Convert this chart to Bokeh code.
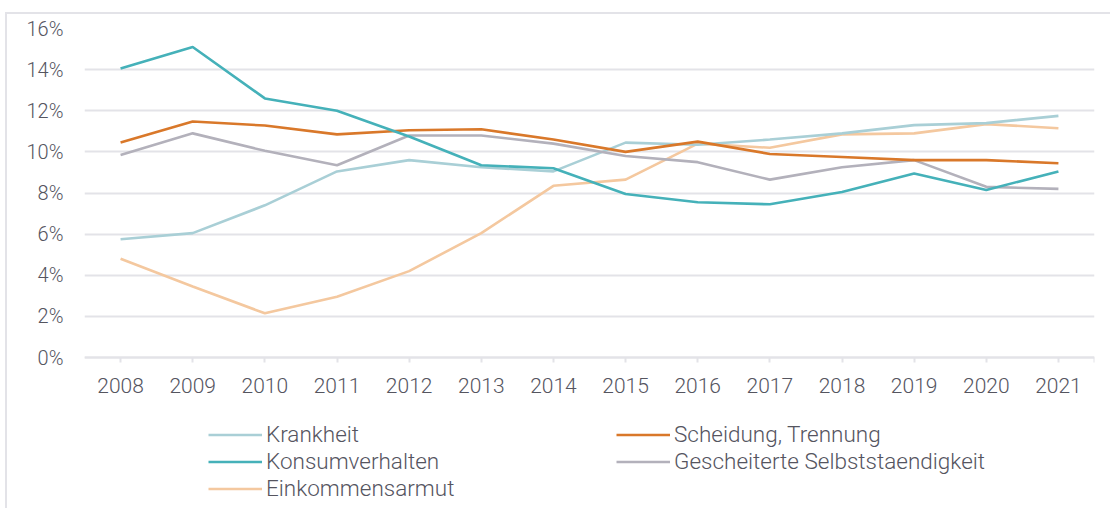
from bokeh.plotting import figure
from bokeh.models import FixedTicker, PrintfTickFormatter, Legend, LegendItem, Range1d
from bokeh.embed import file_html
from bokeh.resources import INLINE

years = [2008, 2009, 2010, 2011, 2012, 2013, 2014, 2015, 2016, 2017, 2018, 2019, 2020, 2021]
krankheit = [5.75, 6.05, 7.4, 9.05, 9.6, 9.25, 9.05, 10.45, 10.35, 10.6, 10.9, 11.3, 11.4, 11.75]
scheidung = [10.45, 11.48, 11.28, 10.85, 11.05, 11.1, 10.6, 10.0, 10.5, 9.9, 9.75, 9.6, 9.6, 9.45]
konsum = [14.05, 15.1, 12.6, 12.0, 10.75, 9.35, 9.2, 7.95, 7.55, 7.45, 8.05, 8.95, 8.15, 9.05]
gescheitert = [9.85, 10.9, 10.05, 9.35, 10.8, 10.8, 10.4, 9.8, 9.5, 8.65, 9.25, 9.6, 8.3, 8.2]
einkommen = [4.8, 3.45, 2.15, 2.95, 4.2, 6.05, 8.35, 8.65, 10.4, 10.2, 10.85, 10.9, 11.35, 11.15]
y_ticks = [0, 2, 4, 6, 8, 10, 12, 14, 16]

series = [
    ("Krankheit", krankheit, "#a9cfd6"),
    ("Scheidung, Trennung", scheidung, "#d9782a"),
    ("Konsumverhalten", konsum, "#45b1b9"),
    ("Gescheiterte Selbststaendigkeit", gescheitert, "#b3b1bb"),
    ("Einkommensarmut", einkommen, "#f4c89f"),
]
# legend order (column-major: left column first, then right column)
legend_order = ["Krankheit", "Konsumverhalten", "Einkommensarmut",
                "Scheidung, Trennung", "Gescheiterte Selbststaendigkeit"]

FONT = "Roboto Light"
TXT = "#55555f"
GRID = "#e3e3e8"

# frame: top at page y=28 (16%), 0% at page y=357, frame bottom at page y=510
y_bottom = -(510 - 357) / ((357 - 28) / 16)

p = figure(width=1105, height=496, output_backend="svg", toolbar_location=None,
           x_range=Range1d(2007.5, 2021.5), y_range=Range1d(y_bottom, 16),
           min_border_left=77, min_border_right=18, min_border_top=14, min_border_bottom=0,
           styles={"margin-left": "5px", "margin-top": "12px",
                   "border-left": "2px solid #e3e3e8", "border-top": "2px solid #e3e3e8"})
p.outline_line_color = None
p.background_fill_color = "white"
p.border_fill_color = "white"

renderers = {}
for name, vals, col in [series[4], series[0], series[3], series[1], series[2]]:
    renderers[name] = p.line(years, vals, line_color=col, line_width=2.6)

p.xgrid.grid_line_color = None
p.ygrid.grid_line_color = GRID
p.ygrid.grid_line_width = 2
p.ygrid.ticker = FixedTicker(ticks=y_ticks)

p.yaxis.ticker = FixedTicker(ticks=y_ticks)
p.yaxis.formatter = PrintfTickFormatter(format="%d%%")
p.yaxis.axis_line_color = None
p.yaxis.major_tick_line_color = None
p.yaxis.minor_tick_line_color = None
p.yaxis.major_tick_out = 0
p.yaxis.major_tick_in = 0
p.yaxis.major_label_standoff = 21
p.yaxis.major_label_text_font = FONT
p.yaxis.major_label_text_font_size = "20px"
p.yaxis.major_label_text_color = TXT

p.xaxis.fixed_location = 0
p.xaxis.ticker = FixedTicker(ticks=years + [2021.5])
p.xaxis.major_label_overrides = {2021.5: ""}
p.xaxis.axis_line_color = GRID
p.xaxis.axis_line_width = 2
p.xaxis.major_tick_line_color = GRID
p.xaxis.major_tick_line_width = 2
p.xaxis.major_tick_out = 5
p.xaxis.major_tick_in = 0
p.xaxis.minor_tick_line_color = None
p.xaxis.major_label_standoff = 15
p.xaxis.major_label_text_font = FONT
p.xaxis.major_label_text_font_size = "21px"
p.xaxis.major_label_text_color = TXT

items = [LegendItem(label=name, renderers=[renderers[name]]) for name in legend_order]
legend = Legend(items=items, ncols=2, location=(124, 9),
                glyph_width=54, glyph_height=25, label_standoff=4, label_width=349,
                spacing=1, padding=0, margin=0, border_line_color=None,
                background_fill_alpha=0, label_text_font=FONT,
                label_text_font_size="22.5px", label_text_color=TXT,
                label_height=25)
p.add_layout(legend, "center")

open("out.html", "w").write(file_html(p, INLINE))
